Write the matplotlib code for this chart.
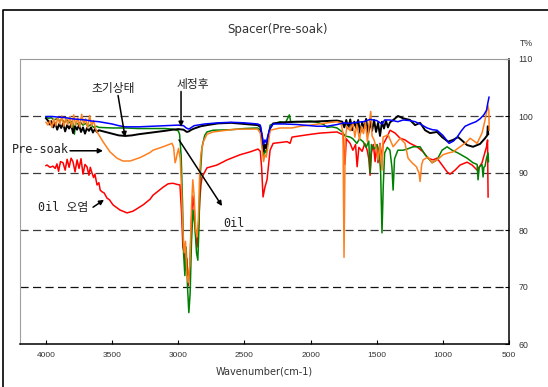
import matplotlib
matplotlib.use("Agg")
import matplotlib.pyplot as plt
from matplotlib.lines import Line2D

# ---------------- data ----------------
blue_wn = [4000,3950,3900,3850,3800,3750,3700,3650,3600,3550,3500,3450,3400,3300,3200,3100,3000,2960,2940,2920,2900,2880,2800,2700,2600,2500,2400,2380,2365,2355,2345,2335,2320,2306,2283,2200,2100,2000,1950,1875,1800,1750,1700,1650,1600,1550,1500,1460,1440,1400,1340,1300,1250,1210,1172,1119,1080,1044,1000,983,953,920,892,860,832,794,750,719,690,670,660,651]
blue_t = [99.9,99.9,99.8,99.7,99.5,99.4,99.3,99.1,99.0,98.8,98.6,98.3,98.1,98.1,98.2,98.3,98.4,98.3,97.9,97.7,98.0,98.3,98.6,98.8,98.9,98.8,98.6,98.4,96.5,95.0,95.8,95.3,96.8,97.9,98.6,98.6,98.5,98.3,98.2,98.2,98.5,98.8,98.7,98.9,99.0,99.4,99.2,98.6,99.3,99.3,99.0,99.3,99.2,99.0,98.6,97.9,97.6,97.5,96.6,96.1,95.2,95.6,96.3,97.4,98.2,98.6,99.0,99.5,100.2,101.0,102.3,103.3]

black_wn = [4000,3985,3970,3960,3945,3930,3915,3900,3885,3870,3855,3840,3825,3810,3795,3780,3765,3750,3735,3720,3705,3690,3675,3660,3645,3630,3615,3600,3550,3500,3450,3400,3350,3300,3200,3100,3040,3000,2960,2935,2920,2900,2880,2830,2783,2700,2600,2500,2400,2380,2365,2355,2345,2335,2320,2306,2283,2200,2100,2000,1900,1800,1760,1745,1730,1715,1700,1685,1670,1655,1640,1625,1610,1595,1580,1565,1550,1535,1520,1505,1490,1475,1460,1445,1430,1415,1399,1370,1339,1301,1248,1210,1172,1134,1097,1044,1006,961,923,885,850,817,772,719,681,665,660,657]
black_t = [99.6,99.2,98.5,99.1,98.0,98.8,97.6,98.6,97.9,98.7,97.3,98.4,97.8,98.5,97.0,98.2,97.6,98.4,97.2,98.0,96.9,97.9,97.4,98.0,97.1,97.7,97.2,97.5,97.2,96.9,96.6,96.5,96.6,96.8,97.1,97.4,97.6,97.7,97.6,97.2,97.3,97.6,97.8,98.2,98.4,98.7,98.8,98.6,98.4,98.1,96.0,93.8,95.0,94.3,96.4,97.8,98.7,98.9,99.0,99.0,99.1,99.2,99.0,98.0,99.3,97.8,99.4,97.5,99.0,97.9,99.3,97.0,98.9,97.8,99.5,96.8,99.0,97.4,99.3,97.2,98.8,96.5,99.0,97.8,99.2,98.0,98.9,99.4,100.0,99.6,99.3,98.4,98.8,97.5,97.0,97.2,96.3,95.5,95.8,96.3,95.6,94.9,94.6,95.1,96.1,96.6,98.2,96.8]

green_wn = [4000,3980,3960,3940,3920,3900,3880,3860,3840,3820,3800,3785,3775,3760,3740,3720,3700,3680,3660,3640,3620,3600,3500,3400,3300,3200,3100,3040,3000,2990,2978,2968,2960,2950,2940,2930,2920,2910,2900,2888,2875,2862,2852,2843,2835,2820,2800,2783,2737,2600,2500,2400,2380,2365,2355,2345,2335,2320,2306,2283,2230,2190,2160,2150,2079,2000,1951,1900,1875,1840,1800,1760,1740,1701,1680,1650,1630,1603,1580,1560,1550,1540,1520,1497,1480,1470,1460,1450,1440,1420,1400,1385,1376,1365,1340,1300,1270,1225,1172,1134,1081,1044,1006,968,930,885,817,772,741,734,725,704,696,690,681,670,658,655]
green_t = [99.8,99.6,99.7,99.3,99.5,99.2,99.4,98.9,99.3,98.8,99.1,96.8,98.9,98.6,98.9,98.4,98.7,98.2,98.5,98.0,98.2,98.0,97.9,97.9,97.8,97.8,97.8,97.7,97.4,96.8,93.0,85.0,76.0,72.0,77.0,70.0,65.5,69.0,78.0,83.5,81.0,76.0,74.7,81.0,89.0,94.6,96.6,97.2,97.5,97.6,97.8,97.9,97.5,95.0,93.0,94.0,93.5,96.0,98.4,98.6,99.0,98.8,100.2,99.0,99.0,99.1,98.9,98.5,98.0,98.1,97.9,97.2,96.5,96.3,96.0,95.2,96.0,95.5,94.5,95.6,90.0,95.0,94.2,95.0,93.5,90.0,79.5,88.0,93.5,94.5,94.0,91.0,87.0,92.5,94.0,94.0,94.2,94.6,94.6,93.2,91.8,92.3,94.0,94.6,94.0,93.5,92.6,91.8,91.5,88.8,91.0,91.5,89.3,91.0,91.2,92.6,93.5,92.0]

orange_wn = [4000,3985,3970,3955,3940,3925,3910,3895,3880,3865,3850,3835,3820,3805,3790,3775,3760,3745,3730,3715,3700,3685,3670,3655,3640,3625,3614,3569,3516,3463,3418,3365,3289,3213,3191,3115,3047,3035,3024,3015,3009,2998,2985,2975,2965,2955,2945,2935,2925,2912,2900,2890,2880,2868,2858,2848,2838,2828,2810,2783,2737,2600,2533,2400,2380,2365,2355,2345,2335,2320,2306,2230,2140,2079,2000,1875,1800,1770,1755,1747,1738,1725,1700,1680,1665,1650,1630,1615,1600,1585,1570,1555,1545,1535,1520,1505,1490,1475,1460,1452,1414,1376,1323,1286,1263,1233,1200,1180,1172,1160,1149,1112,1081,1044,999,961,923,870,817,794,741,704,681,660,652,650]
orange_t = [98.9,98.4,99.2,98.0,99.5,98.3,99.8,98.6,100.0,98.2,99.6,98.5,99.9,98.0,100.2,98.4,99.7,98.1,100.3,98.6,99.5,97.9,100.1,98.3,99.2,97.8,97.2,95.5,93.7,92.6,92.1,92.1,92.7,93.6,94.0,94.6,95.2,94.5,91.8,92.5,93.3,94.3,92.5,87.0,80.0,76.0,78.0,72.0,70.8,74.0,84.0,88.8,86.0,80.0,78.8,82.0,90.0,93.5,95.5,96.8,97.2,97.6,97.7,97.7,97.0,94.0,92.0,93.2,92.8,95.0,97.5,97.9,97.9,98.2,98.4,98.8,99.0,98.8,97.0,75.2,96.0,98.2,97.4,98.8,96.3,98.5,95.8,98.2,96.9,98.9,95.5,99.0,100.8,96.5,95.8,94.5,92.3,95.0,90.5,96.3,96.7,94.6,96.1,95.2,92.6,91.8,91.1,90.0,88.5,91.5,92.3,92.8,91.8,92.3,93.2,93.5,93.7,94.6,95.5,96.1,95.2,97.0,99.3,101.9,100.9,97.5]

red_wn = [4000,3992,3970,3947,3930,3917,3905,3890,3871,3855,3840,3825,3810,3796,3780,3765,3750,3735,3720,3705,3690,3675,3665,3652,3640,3630,3614,3600,3590,3576,3560,3539,3520,3493,3440,3387,3342,3266,3213,3191,3115,3077,3040,3009,2987,2975,2965,2955,2945,2935,2925,2912,2900,2890,2880,2868,2858,2848,2838,2828,2820,2783,2707,2631,2533,2458,2397,2380,2370,2359,2345,2329,2306,2283,2177,2155,2140,2026,1928,1800,1754,1740,1730,1701,1680,1660,1648,1635,1610,1590,1572,1560,1550,1540,1525,1512,1500,1490,1475,1460,1452,1422,1399,1361,1323,1286,1248,1195,1149,1112,1074,1044,1006,968,946,908,870,817,779,741,704,670,662,660,658]
red_t = [91.3,91.4,91.0,91.2,90.8,91.6,90.3,92.0,91.8,90.5,92.4,91.0,92.6,92.0,90.2,92.3,90.8,92.5,89.8,91.5,91.1,89.6,91.0,90.0,89.2,89.8,87.9,88.3,87.0,86.7,86.5,85.6,85.3,84.4,83.5,83.0,83.3,84.4,85.4,86.1,87.5,88.1,88.2,88.0,87.9,83.0,77.0,76.0,73.0,75.0,70.2,74.0,82.0,86.0,84.0,79.0,77.0,80.0,85.0,88.0,89.3,90.9,91.4,92.3,93.2,93.7,94.2,93.8,91.0,85.8,87.5,88.8,94.0,95.2,95.5,95.2,96.3,96.7,97.0,97.2,96.7,91.5,96.0,95.2,94.0,95.0,91.1,94.5,93.8,95.2,94.0,92.5,89.6,93.5,95.0,92.0,94.8,91.8,95.2,92.5,95.0,96.3,97.5,97.0,96.1,95.8,95.2,94.6,93.7,92.6,92.3,92.6,91.4,90.2,89.8,90.5,91.4,91.9,91.4,90.5,91.8,94.6,95.8,90.0,85.8]

x_ticks = [4000, 3500, 3000, 2500, 2000, 1500, 1000, 500]
y_ticks = [60, 70, 80, 90, 100, 110]
grid_levels = [70, 80, 90, 100]

title = "Spacer(Pre-soak)"
x_label = "Wavenumber(cm-1)"
y_unit = "T%"

# ---------------- figure ----------------
W, H = 548, 387
fig = plt.figure(figsize=(W / 100, H / 100), dpi=100)
ax = fig.add_axes([19.5 / W, 1 - 344 / H, (509 - 19.5) / W, (344 - 59) / H])

ax.set_xlim(4200, 500)
ax.set_ylim(60, 110)

for lv in grid_levels:
    ax.axhline(lv, color="#3a3a3a" if lv != 70 else "#111111", lw=0.9,
               ls=(0, (6.5, 3.5)), zorder=1)

ax.plot(red_wn, red_t, color="#ff0000", lw=1.1, zorder=3)
ax.plot(green_wn, green_t, color="#008000", lw=1.1, zorder=4)
ax.plot(black_wn, black_t, color="#000000", lw=1.4, zorder=5)
ax.plot(orange_wn, orange_t, color="#ff7f1e", lw=1.1, zorder=6)
ax.plot(blue_wn, blue_t, color="#0000ff", lw=1.1, zorder=7)

ax.set_xticks(x_ticks)
ax.set_xticklabels([str(v) for v in x_ticks])
ax.set_yticks(y_ticks)
ax.set_yticklabels([str(v) for v in y_ticks])
ax.yaxis.tick_right()
ax.tick_params(axis="x", direction="in", length=3, width=0.8, pad=6,
               labelsize=6, labelcolor="#333333", colors="#000000")
ax.tick_params(axis="x", labelcolor="#333333")
ax.tick_params(axis="y", direction="in", length=3, width=0.8, pad=7,
               labelsize=6.3, labelcolor="#333333")
for lab in ax.get_xticklabels() + ax.get_yticklabels():
    lab.set_family("Liberation Sans")

ax.spines["left"].set_color("#a0a0a0")
ax.spines["left"].set_linewidth(0.8)
ax.spines["top"].set_color("#9a9a9a")
ax.spines["top"].set_linewidth(0.8)
ax.spines["right"].set_color("#000000")
ax.spines["right"].set_linewidth(1.1)
ax.spines["bottom"].set_color("#000000")
ax.spines["bottom"].set_linewidth(1.1)

ax.set_xlabel(x_label, fontsize=7, color="#333333", labelpad=5,
              family="DejaVu Sans")

fig.text(278 / W, 1 - 30 / H, title, ha="center", va="center",
         fontsize=8.5, color="#333333", family="DejaVu Sans")
fig.text(526 / W, 1 - 44 / H, y_unit, ha="center", va="center",
         fontsize=6.3, color="#333333", family="Liberation Sans")

# annotations
kor = ["Noto Sans CJK KR", "DejaVu Sans"]
mono = ["DejaVu Sans Mono", "Noto Sans CJK KR"]
arrow = dict(arrowstyle="-|>", color="k", lw=1.1, mutation_scale=7,
             shrinkA=0, shrinkB=0)

ax.text(3493, 104.9, "초기상태", ha="center", va="center", fontsize=8.5,
        family=kor, color="#222222", zorder=10)
ax.annotate("", xy=(3402, 96.3), xytext=(3455, 103.6), arrowprops=arrow,
            zorder=10)

ax.text(2888, 105.6, "세정후", ha="center", va="center", fontsize=8.5,
        family=kor, color="#222222", zorder=10)
ax.annotate("", xy=(2979, 98.1), xytext=(2979, 104.3), arrowprops=arrow,
            zorder=10)

ax.text(4257, 94.2, "Pre-soak", ha="left", va="center", fontsize=8.5,
        family=mono, color="#222222", zorder=10, clip_on=False)
ax.annotate("", xy=(3569, 93.9), xytext=(3818, 93.9), arrowprops=arrow,
            zorder=10)

ax.text(4060, 83.9, "0il 오염", ha="left", va="center", fontsize=8.5,
        family=mono, color="#222222", zorder=10)
ax.annotate("", xy=(3561, 85.3), xytext=(3644, 84.0), arrowprops=arrow,
            zorder=10)

ax.text(2662, 81.2, "0il", ha="left", va="center", fontsize=8.5,
        family=mono, color="#222222", zorder=10)
ax.annotate("", xy=(2669, 84.2), xytext=(2994, 95.8), arrowprops=arrow,
            zorder=10)

# outer frame (open to the right and bottom)
fx = 3 / W
fy = 1 - 10 / H
fig.add_artist(Line2D([fx, fx, 1.0], [0.0, fy, fy], transform=fig.transFigure,
                      color="k", lw=1.2))

fig.savefig("out.png", dpi=100)
